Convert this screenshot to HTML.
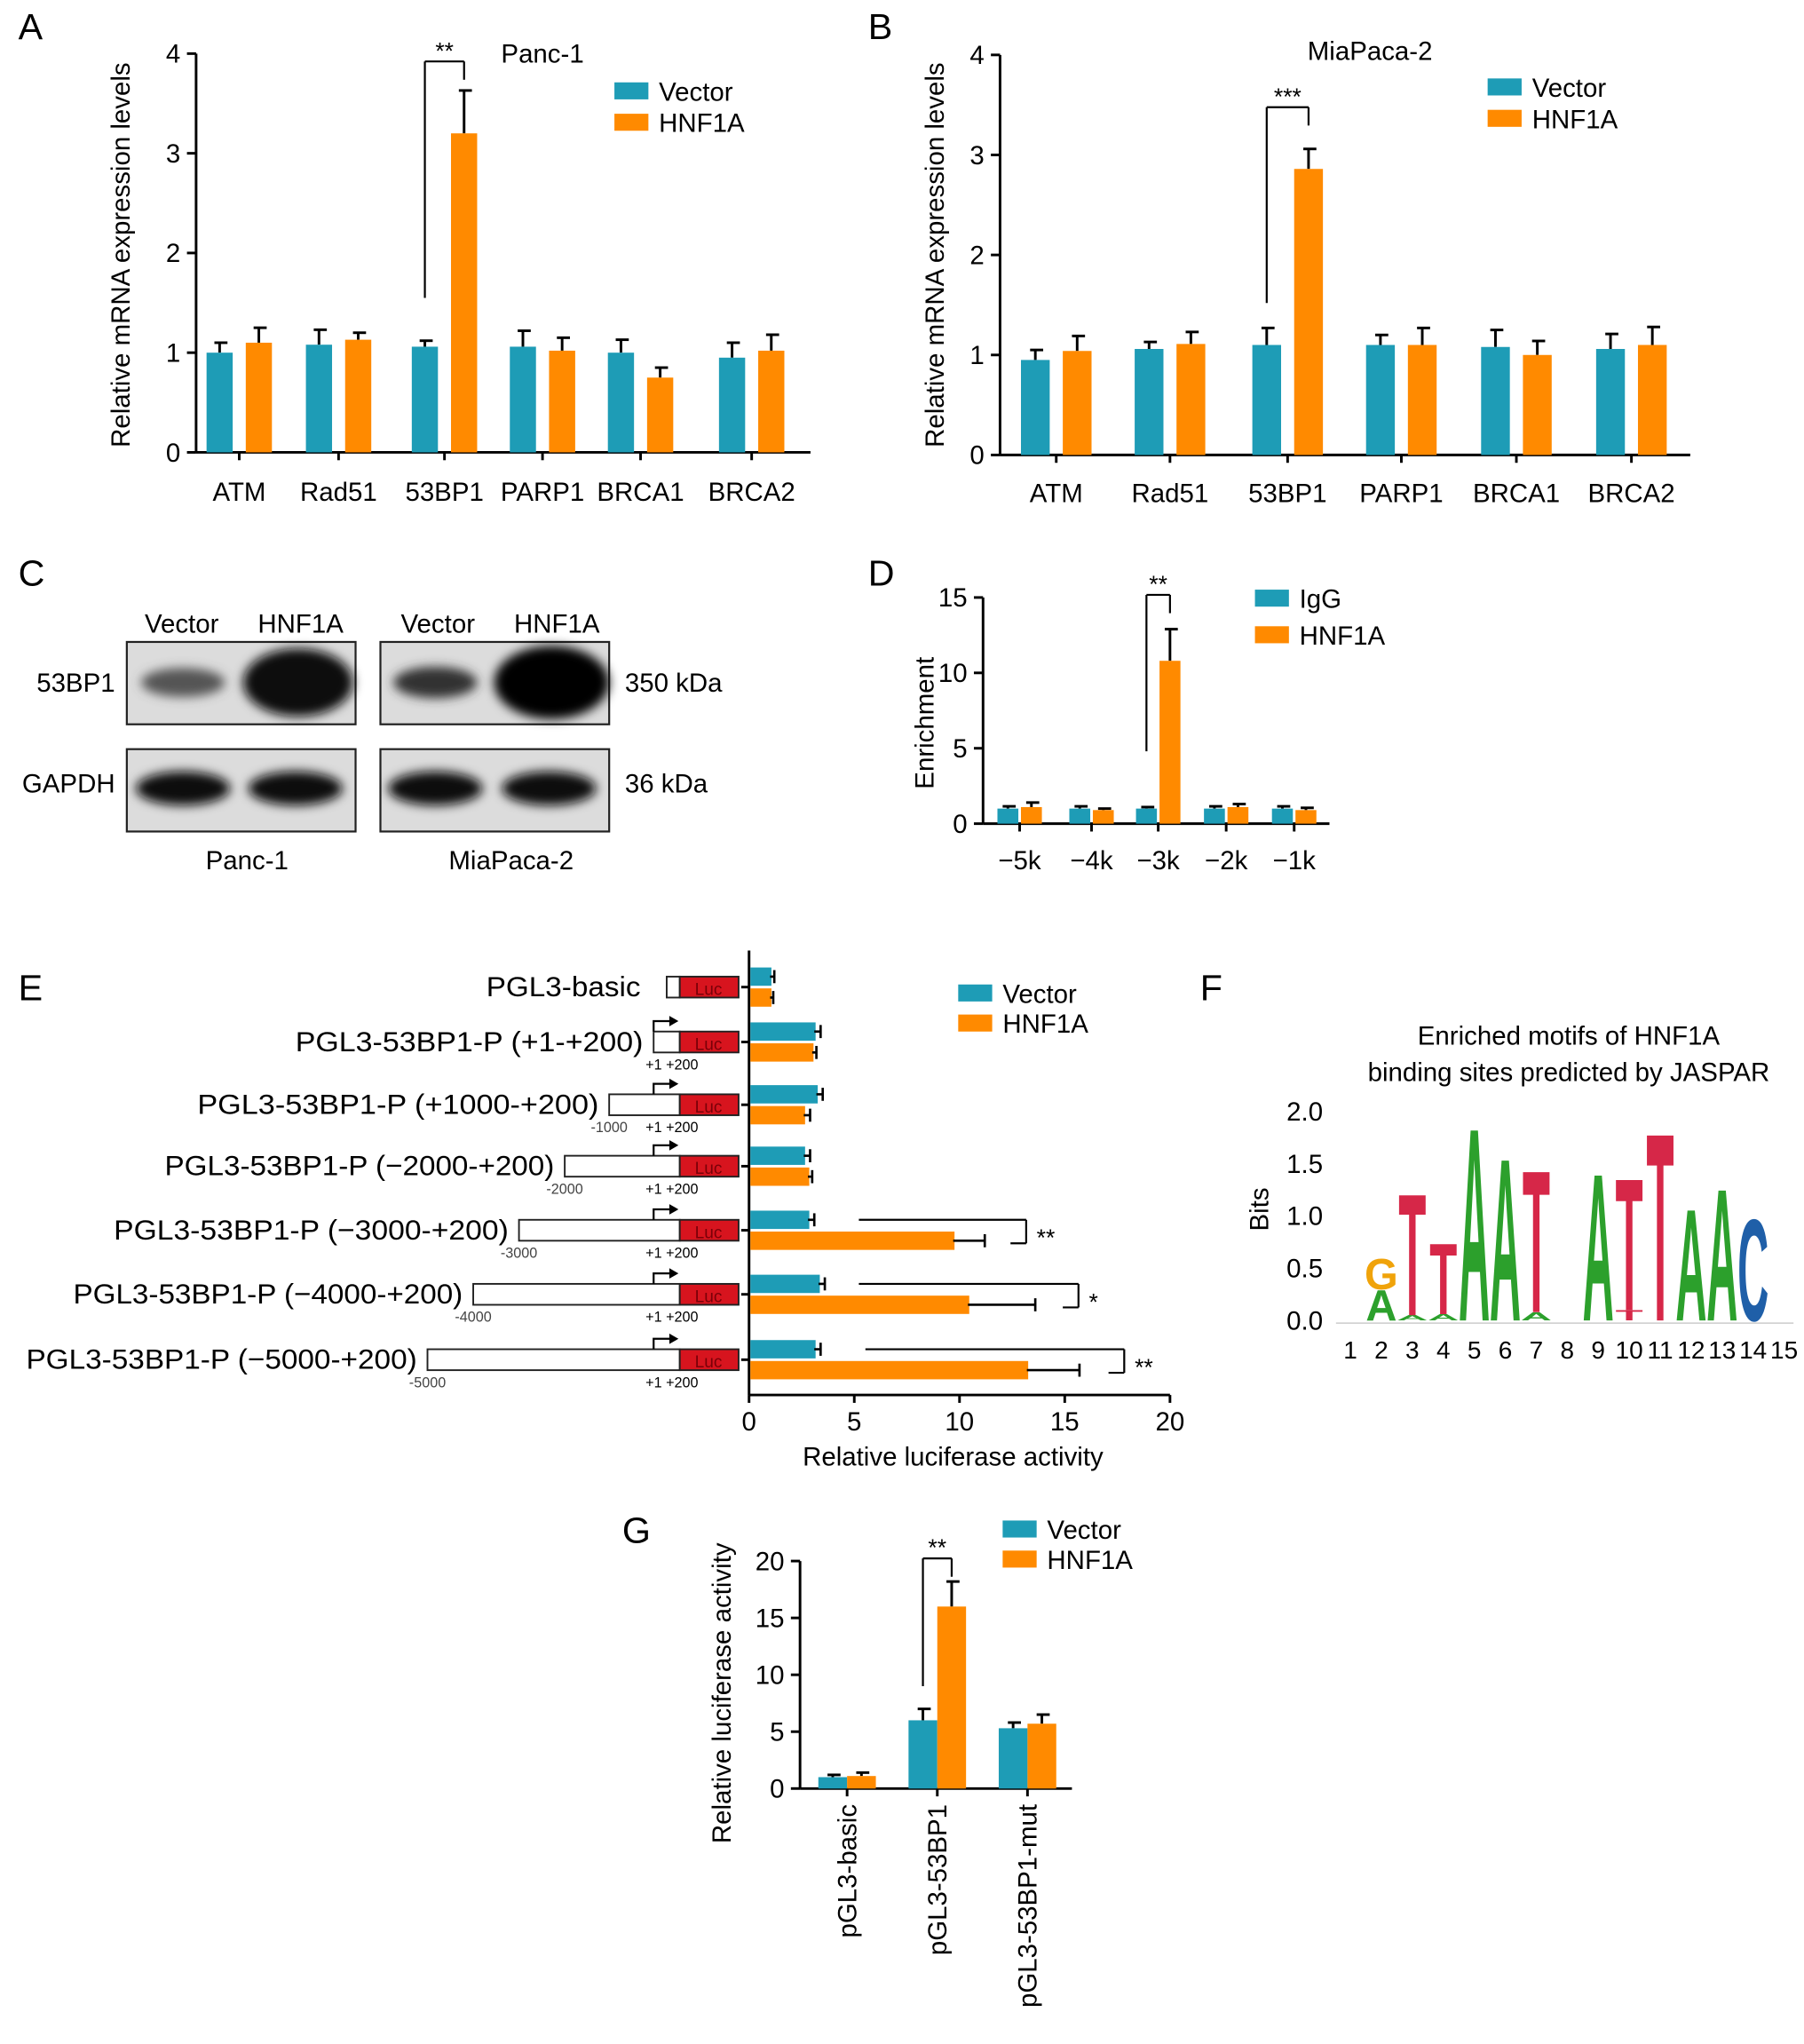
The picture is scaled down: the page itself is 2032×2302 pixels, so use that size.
<!DOCTYPE html>
<html><head><meta charset="utf-8"><style>
html,body{margin:0;padding:0;background:#fff}
svg{display:block;font-family:"Liberation Sans",Arial,sans-serif}
</style></head><body>
<svg id="fig" width="2032" height="2302" viewBox="0 0 1380 1563.4" xmlns="http://www.w3.org/2000/svg">
<defs><filter id="blur" x="-20%" y="-50%" width="140%" height="200%"><feGaussianBlur stdDeviation="4"/></filter></defs>
<g id="root"></g>
</svg>
<script>
// ---------- DATA ----------
const aCats=["ATM","Rad51","53BP1","PARP1","BRCA1","BRCA2"];
const aVector=[1.0,1.08,1.06,1.06,1.0,0.95];
const aVectorErr=[0.1,0.15,0.06,0.16,0.13,0.15];
const aHnf=[1.1,1.13,3.2,1.02,0.75,1.02];
const aHnfErr=[0.15,0.07,0.43,0.13,0.1,0.16];
const aTicks=[0,1,2,3,4];

const bCats=["ATM","Rad51","53BP1","PARP1","BRCA1","BRCA2"];
const bVector=[0.95,1.06,1.1,1.1,1.08,1.06];
const bVectorErr=[0.1,0.07,0.17,0.1,0.17,0.15];
const bHnf=[1.04,1.11,2.86,1.1,1.0,1.1];
const bHnfErr=[0.15,0.12,0.2,0.17,0.14,0.18];
const bTicks=[0,1,2,3,4];

const dCats=["\u22125k","\u22124k","\u22123k","\u22122k","\u22121k"];
const dIgg=[1,1,1,1,1];
const dIggErr=[0.15,0.15,0.1,0.15,0.15];
const dHnf=[1.1,0.9,10.8,1.1,0.9];
const dHnfErr=[0.3,0.1,2.1,0.2,0.15];
const dTicks=[0,5,10,15];

const eLabels=["PGL3-basic","PGL3-53BP1-P (+1-+200)","PGL3-53BP1-P (+1000-+200)","PGL3-53BP1-P (\u22122000-+200)","PGL3-53BP1-P (\u22123000-+200)","PGL3-53BP1-P (\u22124000-+200)","PGL3-53BP1-P (\u22125000-+200)"];
const eStart=["","+1","-1000","-2000","-3000","-4000","-5000"];
const eVector=[1,3.1,3.2,2.6,2.8,3.3,3.1];
const eVectorErr=[0.2,0.3,0.3,0.3,0.3,0.3,0.3];
const eHnf=[1,3.0,2.6,2.8,9.7,10.4,13.2];
const eHnfErr=[0.15,0.2,0.3,0.2,1.5,3.2,2.5];
const eTicks=[0,5,10,15,20];

const fPos=[1,2,3,4,5,6,7,8,9,10,11,12,13,14,15];
const fLetters=[[],[["A",0.3,"#2ca02c"],["G",0.3,"#f0a30a"]],[["A",0.05,"#2ca02c"],["T",1.2,"#d62748"]],[["A",0.06,"#2ca02c"],["T",0.7,"#d62748"]],[["A",1.9,"#2ca02c"]],[["A",1.6,"#2ca02c"]],[["A",0.08,"#2ca02c"],["T",1.4,"#d62748"]],[],[["A",1.45,"#2ca02c"]],[["T",0.1,"#d62748"],["T",1.3,"#d62748"]],[["T",1.85,"#d62748"]],[["A",1.1,"#2ca02c"]],[["A",1.3,"#2ca02c"]],[["C",1.0,"#1f5fa8"]],[]];
const fTicks=["0.0","0.5","1.0","1.5","2.0"];

const gCats=["pGL3-basic","pGL3-53BP1","pGL3-53BP1-mut"];
const gVector=[1,6,5.3];
const gVectorErr=[0.2,1,0.5];
const gHnf=[1.1,16,5.7];
const gHnfErr=[0.3,2.2,0.8];
const gTicks=[0,5,10,15,20];

// ---------- HELPERS ----------
const NS="http://www.w3.org/2000/svg";
const root=document.getElementById('root');
const TEAL="#1e9cb6", ORANGE="#ff8a00";
function el(tag,attrs,parent,txt){const e=document.createElementNS(NS,tag);for(const k in attrs)e.setAttribute(k,attrs[k]);if(txt!==undefined)e.textContent=txt;(parent||root).appendChild(e);return e;}
function line(x1,y1,x2,y2,p,w){return el('line',{x1,y1,x2,y2,stroke:'#000','stroke-width':w||2},p);}
function txt(x,y,s,size,anchor,p,extra){const t=el('text',Object.assign({x,y,'font-size':size,'text-anchor':anchor||'middle',fill:'#000'},extra||{}),p,s);return t;}

function vchart(o){
  const g=el('g',{},root);
  
  
  const ys=v=>o.y0-(v/o.max)*(o.y0-o.yTop);
  line(o.x0,o.yTop,o.x0,o.y0,g);line(o.x0,o.y0,o.x1,o.y0,g);
  o.ticks.forEach(t=>{const y=ys(t);line(o.x0-7,y,o.x0,y,g);const tl=txt(o.x0-12,y+7,String(t),o.fs||20,'end',g);
    
    });
  o.cats.forEach((c,i)=>{
    const cx=o.cx[i];
    line(cx,o.y0,cx,o.y0+6,g);
    [[o.s1,o.e1,TEAL,-1],[o.s2,o.e2,ORANGE,1]].forEach(([s,e,col,side])=>{
      const x=side<0?cx-o.bw-o.gap/2:cx+o.gap/2;
      const v=s[i],top=ys(v),et=ys(v+e[i]);
      line(x+o.bw/2,top,x+o.bw/2,et,g,2);line(x+o.bw/2-4,et,x+o.bw/2+6,et,g,2);
      const r=el('rect',{x,y:top,width:o.bw,height:o.y0-top,fill:col},g);
      
      
    });
    if(o.rotLabels){const t=txt(0,0,c,o.fs||20,'end',g,{transform:`translate(${cx+7},${o.y0+12}) rotate(-90)`});
      
      }
    else{const t=txt(cx,o.y0+o.lblDy,c,o.fs||20,'middle',g);
      
      }
  });
  if(o.sig){const s=o.sig;const x1=o.cx[s.i]-o.bw/2-o.gap/2,x2=o.cx[s.i]+o.bw/2+o.gap/2;
    line(x1,ys(s.from),x1,s.y,g,1.5);line(x1,s.y,x2,s.y,g,1.5);line(x2,s.y,x2,s.y+14,g,1.5);
    txt((x1+x2)/2,s.y-2,s.star,18,'middle',g);}
  return {g,ys};
}
function legend(x,y,labels,fs,dy,name){
  const g=el('g',{},root);
  
  
  labels.forEach((l,i)=>{el('rect',{x,y:y+i*dy,width:26,height:13,fill:i?ORANGE:TEAL},g);txt(x+34,y+i*dy+14,l,fs,'start',g);});
}

// panel letters
[["A",14,30],["B",664,30],["C",14,448],["D",664,448],["E",14,765],["F",918,765],["G",476,1180]].forEach(([l,x,y])=>{const t=txt(x,y,l,28,'start');
  
  });

// ---------- A ----------
vchart({name:'chart-a',x0:150,x1:620,y0:346,yTop:41,max:4,ticks:aTicks,cats:aCats,cx:[183,259,340,415,490,575],bw:20,gap:10,s1:aVector,e1:aVectorErr,s2:aHnf,e2:aHnfErr,lblDy:37,sig:{i:2,from:1.55,y:47,star:'**'}});
txt(415,48,'Panc-1',20,'middle');
legend(470,63,['Vector','HNF1A'],20,24,'legend-a');
txt(0,0,'Relative mRNA expression levels',20,'middle',root,{transform:'translate(99,195) rotate(-90)'});

// ---------- B ----------
vchart({name:'chart-b',x0:765,x1:1293,y0:348,yTop:42,max:4,ticks:bTicks,cats:bCats,cx:[808,895,985,1072,1160,1248],bw:22,gap:10,s1:bVector,e1:bVectorErr,s2:bHnf,e2:bHnfErr,lblDy:36,sig:{i:2,from:1.52,y:82,star:'***'}});
txt(1048,46,'MiaPaca-2',20,'middle');
legend(1138,60,['Vector','HNF1A'],20,24,'legend-b');
txt(0,0,'Relative mRNA expression levels',20,'middle',root,{transform:'translate(722,195) rotate(-90)'});

// ---------- C (blots) ----------
(function(){
  const g=el('g',{},root);
  
  
  [[97,491],[291,491],[97,573],[291,573]].forEach(([x,y])=>el('rect',{x,y,width:175,height:63,fill:'#dcdcdc',stroke:'#222','stroke-width':1.5},g));
  el('ellipse',{cx:140,cy:522,rx:32,ry:11,fill:'#555',filter:'url(#blur)'},g);
  el('ellipse',{cx:228,cy:522,rx:42,ry:26,fill:'#080808',filter:'url(#blur)'},g);
  el('ellipse',{cx:333,cy:522,rx:32,ry:12,fill:'#333',filter:'url(#blur)'},g);
  el('ellipse',{cx:422,cy:522,rx:44,ry:28,fill:'#050505',filter:'url(#blur)'},g);
  [140,226,333,420].forEach(x=>el('ellipse',{cx:x,cy:603,rx:36,ry:13,fill:'#0a0a0a',filter:'url(#blur)'},g));
  txt(139,484,'Vector',20,'middle',g);txt(230,484,'HNF1A',20,'middle',g);
  txt(335,484,'Vector',20,'middle',g);txt(426,484,'HNF1A',20,'middle',g);
  txt(88,529,'53BP1',20,'end',g);txt(88,606,'GAPDH',20,'end',g);
  txt(478,529,'350 kDa',20,'start',g);txt(478,606,'36 kDa',20,'start',g);
  txt(189,665,'Panc-1',20,'middle',g);txt(391,665,'MiaPaca-2',20,'middle',g);
})();

// ---------- D ----------
vchart({name:'chart-d',x0:752,x1:1017,y0:630,yTop:457,max:15,ticks:dTicks,cats:dCats,cx:[780,835,886,938,990],bw:16,gap:2,s1:dIgg,e1:dIggErr,s2:dHnf,e2:dHnfErr,lblDy:35,sig:{i:2,from:4.8,y:455,star:'**'}});
legend(960,451,['IgG','HNF1A'],20,28,'legend-d');
txt(0,0,'Enrichment',20,'middle',root,{transform:'translate(714,553) rotate(-90)'});

// ---------- E ----------
(function(){
  const g=el('g',{},root);
  
  
  const x0=573,y0=1067,xs=v=>x0+v/20*(895-x0);
  const rows=[755,797,845,892,941,990,1040];
  line(x0,727,x0,y0,g);line(x0,y0,895,y0,g);
  eTicks.forEach(t=>{line(xs(t),y0,xs(t),y0+6,g);txt(xs(t),y0+27,String(t),20,'middle',g);});
  txt(729,1121,'Relative luciferase activity',20,'middle',g);
  const left=[510,500,466,432,397,362,327];
  eLabels.forEach((l,i)=>{
    const cy=rows[i];
    line(x0-6,cy,x0,cy,g);
    el('rect',{x:left[i],y:cy-8,width:520-left[i],height:16,fill:'#fff',stroke:'#222','stroke-width':1.3},g);
    el('rect',{x:520,y:cy-8,width:45,height:16,fill:'#d7141e',stroke:'#222','stroke-width':1.3},g);
    txt(542,cy+6,'Luc',13,'middle',g,{fill:'#7a0008'});
    if(i>0){
      el('path',{d:`M500 ${cy-8} V${cy-16} H514`,fill:'none',stroke:'#000','stroke-width':1.5},g);
      el('path',{d:`M512 ${cy-20} L519 ${cy-16} L512 ${cy-12} Z`,fill:'#000'},g);
      txt(514,cy+21,'+1 +200',11,'middle',g);
      if(i>1)txt(left[i],cy+21,eStart[i],11,'middle',g,{fill:'#444'});
    }
    const t=txt(i==0?490:left[i]-8,cy+7,l,21.5,'end',g,{textLength:i==0?118:(left[i]-8-[0,226,151,126,87,56,20][i]),lengthAdjust:'spacingAndGlyphs'});
    
    
    [[eVector,eVectorErr,TEAL,cy-15],[eHnf,eHnfErr,ORANGE,cy+1]].forEach(([s,e,col,y])=>{
      const r=el('rect',{x:x0+1,y,width:xs(s[i])-x0,height:14,fill:col},g);
      
      
      const xe=xs(s[i]+e[i]);
      line(xs(s[i]),y+7,xe,y+7,g,1.8);line(xe,y+2,xe,y+12,g,1.8);
    });
    if(i>=4){
      const sx=[[657,785,'**'],[657,825,'*'],[662,860,'**']][i-4];
      const a=cy-8,b=cy+10;
      line(sx[0],a,sx[1],a,g,1.5);line(sx[1],a,sx[1],b,g,1.5);line(sx[1]-12,b,sx[1],b,g,1.5);
      txt(sx[1]+8,cy+12,sx[2],18,'start',g);
    }
  });
  legend(733,753,['Vector','HNF1A'],20,23,'legend-e');
})();

// ---------- F ----------
(function(){
  const g=el('g',{},root);
  
  
  txt(1200,799,'Enriched motifs of HNF1A',20,'middle',g);
  txt(1200,827,'binding sites predicted by JASPAR',20,'middle',g);
  const y0=1010,yT=850,ys=v=>y0-v/2*(y0-yT);
  fTicks.forEach(t=>txt(1012,ys(+t)+7,t,20,'end',g));
  txt(0,0,'Bits',20,'middle',g,{transform:'translate(970,925) rotate(-90)'});
  const xs=p=>1033+(p-1)*23.7;
  fPos.forEach((p,i)=>{
    txt(xs(p),1039,String(p),19,'middle',g);
    let base=y0;
    fLetters[i].forEach(([L,h,col])=>{
      const hp=h/2*(y0-yT);
      const sy=hp/(0.72*30);
      const w=L=='T'?1.15:1.1;
      el('text',{x:0,y:0,'font-size':30,'text-anchor':'middle',fill:col,'font-weight':'bold',transform:`translate(${xs(p)},${base}) scale(${w},${sy})`},g,L);
      base-=hp;
    });
  });
  line(1022,y0+2,1372,y0+2,g,1).setAttribute('stroke','#ccc');
})();

// ---------- G ----------
vchart({name:'chart-g',x0:612,x1:820,y0:1368,yTop:1194,max:20,ticks:gTicks,cats:gCats,cx:[648,717,786],bw:22,gap:0,s1:gVector,e1:gVectorErr,s2:gHnf,e2:gHnfErr,rotLabels:true,sig:{i:1,from:9,y:1192,star:'**'}});
legend(767,1163,['Vector','HNF1A'],20,23,'legend-g');
txt(0,0,'Relative luciferase activity',20,'middle',root,{transform:'translate(559,1295) rotate(-90)'});
</script>
</body></html>
